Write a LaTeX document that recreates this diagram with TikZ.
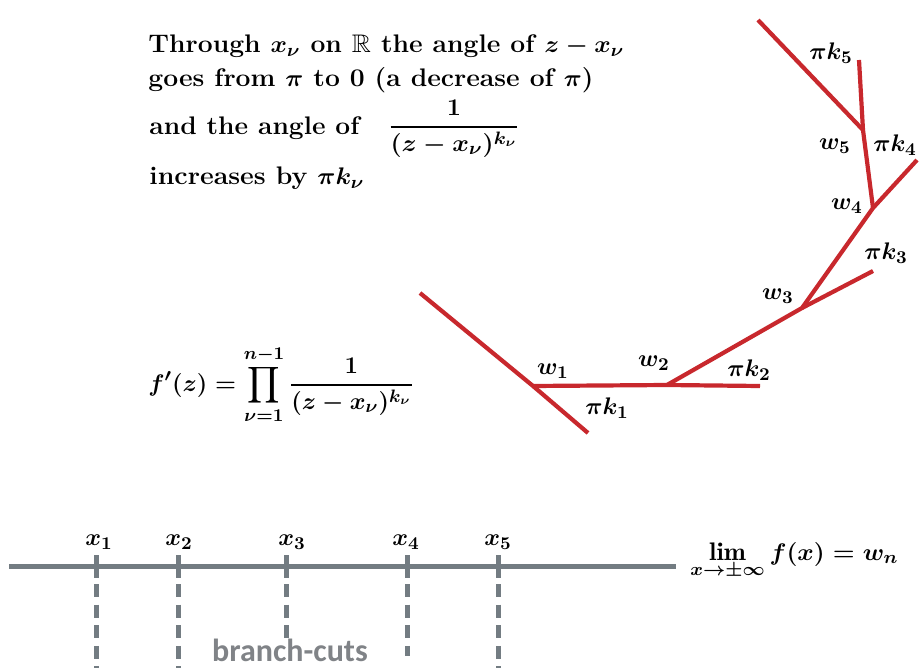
\documentclass[tikz,border=0pt]{standalone}
\usepackage{amsmath,amssymb}
\usepackage{graphicx}
\usepackage{fontspec}
\newfontfamily\cutfont{Carlito}
\newcommand{\fitw}[2]{\resizebox{#1}{\height}{#2}}
\definecolor{redline}{RGB}{200,40,45}
\definecolor{axisgray}{RGB}{115,124,130}
\definecolor{cutgray}{RGB}{128,131,135}
\begin{document}
\begin{tikzpicture}[x=0.5pt,y=-0.5pt,
  txt/.style={font=\fontsize{12.7}{15}\selectfont\bfseries\boldmath, inner sep=0pt},
  toptxt/.style={font=\fontsize{12.7}{15}\selectfont\bfseries\boldmath, inner sep=0pt, anchor=base west},
  redseg/.style={draw=redline, line width=2.1pt},
  axisline/.style={draw=axisgray, line width=2.5pt},
  tickline/.style={draw=axisgray, line width=2.5pt},
  cutline/.style={draw=axisgray, line width=2.5pt, dash pattern=on 6.5pt off 3.8pt},
  cutlabel/.style={font=\fontsize{16}{18}\selectfont\cutfont\bfseries, text=cutgray, inner sep=0pt}
]
\useasboundingbox (0,0) rectangle (921,668);
\clip (0,0) rectangle (921,668);

% top-left explanation
\node[toptxt] (l1) at (148,53) {\fitw{238pt}{Through $x_\nu$ on $\mathbb{R}$ the angle of $z-x_\nu$}};
\node[toptxt] (l2) at (148,87) {\fitw{222.5pt}{goes from $\pi$ to 0 (a decrease of $\pi$)}};
\node[toptxt] (l3) at (149,135) {\fitw{105pt}{and the angle of}};
\node[toptxt, anchor=base] (l3f) at (454,133)
  {\fitw{66pt}{$\dfrac{1}{(z-x_\nu)^{k_\nu}}$}};
\node[toptxt] (l4) at (149,185) {\fitw{107.5pt}{increases by $\pi k_\nu$}};

% formula
\node[txt,anchor=base west] (fp) at (148,391) {$\displaystyle f'(z)=\prod_{\nu=1}^{n-1}\frac{1}{(z-x_\nu)^{k_\nu}}$};

% red polygon image
\coordinate (a0) at (420,293);
\coordinate (w1) at (533,386);
\coordinate (k1) at (588,433);
\coordinate (w2) at (667,385);
\coordinate (k2) at (760,386);
\coordinate (w3) at (802,308);
\coordinate (k3) at (873,271);
\coordinate (w4) at (873,208);
\coordinate (k4) at (917,160);
\coordinate (w5) at (863,130);
\coordinate (k5) at (859,60);
\coordinate (a6) at (758,20);

\draw[redseg] (a0) -- (w1) -- (k1);
\draw[redseg] (w1) -- (w2) -- (k2);
\draw[redseg] (w2) -- (w3) -- (w4) -- (k4);
\draw[redseg] (w3) -- (k3);
\draw[redseg] (w4) -- (w5) -- (k5);
\draw[redseg] (a6) -- (w5);

\node[txt] (lw1) at (553,371) {$w_1$};
\node[txt] (lk1) at (607,408) {$\pi k_1$};
\node[txt] (lw2) at (654,363) {$w_2$};
\node[txt] (lk2) at (749,370) {$\pi k_2$};
\node[txt] (lw3) at (778,296) {$w_3$};
\node[txt] (lk3) at (886,253) {$\pi k_3$};
\node[txt] (lw4) at (847,206) {$w_4$};
\node[txt] (lk4) at (895,145) {$\pi k_4$};
\node[txt] (lw5) at (835,146) {$w_5$};
\node[txt] (lk5) at (831,53) {$\pi k_5$};

% real axis
\coordinate (axL) at (9,566);
\coordinate (axR) at (676,566);
\draw[axisline] (axL) -- (axR);

\foreach \i/\x/\e in {1/96/672, 2/178/672, 3/286/638, 4/407/656, 5/498/672} {
  \coordinate (ta\i) at (\x,555);
  \coordinate (tb\i) at (\x,578);
  \coordinate (ca\i) at (\x,584);
  \coordinate (cb\i) at (\x,\e);
  \draw[tickline] (ta\i) -- (tb\i);
  \draw[cutline] (ca\i) -- (cb\i);
}

\node[txt] (x1) at (99,542) {$x_1$};
\node[txt] (x2) at (179,542) {$x_2$};
\node[txt] (x3) at (292,542) {$x_3$};
\node[txt] (x4) at (406,542) {$x_4$};
\node[txt] (x5) at (498,542) {$x_5$};

\node[txt,anchor=base west] (lim) at (690,560) {\fitw{104pt}{$\displaystyle\lim_{x\to\pm\infty} f(x)=w_n$}};

\node[cutlabel,anchor=base] (bc) at (290,661) {branch-cuts};
\end{tikzpicture}
\end{document}
